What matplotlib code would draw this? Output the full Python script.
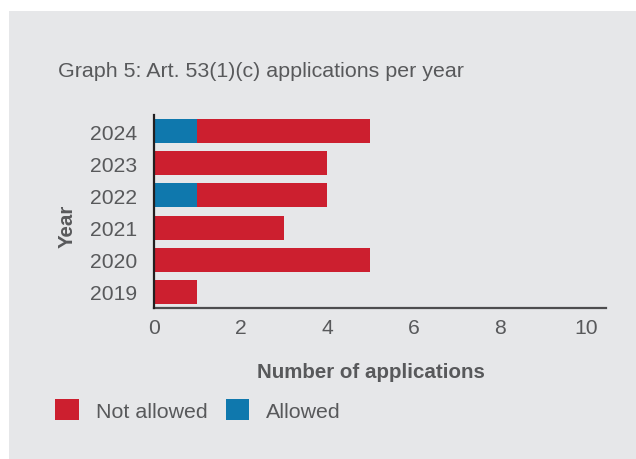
import numpy as np
import matplotlib
matplotlib.use("Agg")
import matplotlib.pyplot as plt
from matplotlib.patches import Patch, Rectangle

years = ["2019", "2020", "2021", "2022", "2023", "2024"]
not_allowed = [1, 5, 3, 3, 4, 4]
allowed = [0, 0, 0, 1, 0, 1]
x_ticks = [0, 2, 4, 6, 8, 10]

RED = "#cc1f2f"
BLUE = "#0f78ad"
BG = "#e6e7e9"
TXT = "#58595b"

plt.rcParams["font.family"] = ["Liberation Sans", "DejaVu Sans"]

W, H = 636, 460
fig = plt.figure(figsize=(W / 100, H / 100), dpi=100)
fig.patch.set_facecolor("white")
# grey panel behind the chart
fig.patches.append(Rectangle((9 / W, 0), 1 - 9 / W, (H - 12) / H,
                             transform=fig.transFigure, facecolor=BG,
                             edgecolor="none", zorder=-10))

ax = fig.add_axes([154 / W, 1 - 309 / H, (606 - 154) / W, (309 - 116) / H])
ax.set_facecolor(BG)

y = np.arange(len(years))
ax.barh(y, allowed, height=0.75, color=BLUE, zorder=2)
ax.barh(y, not_allowed, left=allowed, height=0.75, color=RED, zorder=2)

ax.set_xlim(0, 10.45)
ax.set_ylim(-0.5, len(years) - 0.5)
ax.set_yticks(y)
ax.set_yticklabels(years)
ax.set_xticks(x_ticks)
ax.tick_params(axis="both", length=0, labelsize=15.2, labelcolor=TXT)
ax.tick_params(axis="y", pad=12)
ax.tick_params(axis="x", pad=7)

for s in ["top", "right"]:
    ax.spines[s].set_visible(False)
ax.spines["left"].set_color("#231f20")
ax.spines["left"].set_linewidth(1.6)
ax.spines["bottom"].set_color("#4d4d4f")
ax.spines["bottom"].set_linewidth(1.6)
ax.spines["left"].set_zorder(3)

# texts placed in pixel terms
fig.text(58 / W, 1 - 77 / H, "Graph 5: Art. 53(1)(c) applications per year",
         fontsize=15.4, color=TXT, ha="left", va="baseline")
fig.text(370.5 / W, 1 - 378 / H, "Number of applications", fontsize=14.8,
         fontweight="bold", color=TXT, ha="center", va="baseline")
fig.text(67.5 / W, 1 - 226.5 / H, "Year", fontsize=14.8, fontweight="bold",
         color=TXT, rotation=90, ha="center", va="center")

handles = [Patch(facecolor=RED), Patch(facecolor=BLUE)]
fig.legend(handles, ["Not allowed", "Allowed"], loc="upper left",
           bbox_to_anchor=(55 / W, 1 - 400 / H), ncol=2, frameon=False,
           fontsize=15.4, labelcolor=TXT, handlelength=1.1, handleheight=1.15,
           handletextpad=0.8, columnspacing=0.85, borderpad=0, borderaxespad=0)

fig.savefig("out.png", dpi=100)
